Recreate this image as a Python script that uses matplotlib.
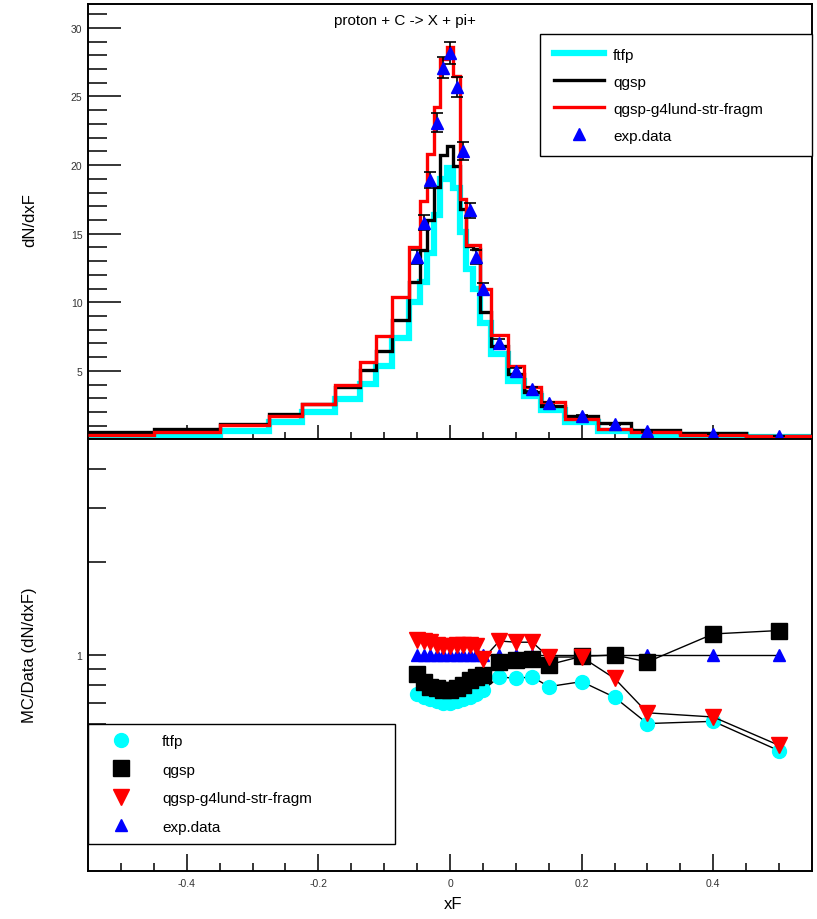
import numpy as np
import matplotlib
matplotlib.use('Agg')
import matplotlib.pyplot as plt
from matplotlib.lines import Line2D
from matplotlib.ticker import FixedLocator, NullFormatter, FixedFormatter

plt.rcParams['font.family'] = ['Liberation Sans', 'DejaVu Sans']

# histogram bins (xF)
edges = [-0.55, -0.45, -0.35, -0.275, -0.225, -0.175, -0.1375, -0.1125, -0.0875,
         -0.0625, -0.045, -0.035, -0.025, -0.015, -0.005, 0.005, 0.015, 0.025,
         0.035, 0.045, 0.0625, 0.0875, 0.1125, 0.1375, 0.175, 0.225, 0.275,
         0.35, 0.45, 0.55]

h_ftfp = [0.3, 0.35, 0.62, 1.28, 2.0, 2.95, 4.05, 5.35, 7.4, 10.0, 11.5, 13.6,
          16.4, 19.0, 19.8, 18.3, 15.1, 12.4, 11.0, 8.5, 6.2, 4.3, 3.15, 2.15,
          1.3, 0.62, 0.33, 0.3, 0.2]
h_qgsp = [0.55, 0.75, 1.15, 1.85, 2.6, 3.8, 5.07, 6.45, 8.7, 11.5, 13.8, 16.0,
          18.4, 20.7, 21.4, 19.9, 16.8, 14.1, 13.9, 9.3, 6.8, 4.8, 3.45, 2.45,
          1.7, 1.2, 0.7, 0.48, 0.27]
h_lund = [0.35, 0.55, 1.05, 1.7, 2.6, 4.0, 5.65, 7.55, 10.4, 14.0, 17.4, 20.8,
          24.2, 27.7, 28.6, 26.5, 17.5, 14.2, 14.2, 11.0, 7.6, 5.35, 3.8, 2.7,
          1.5, 0.77, 0.55, 0.33, 0.25]

# experimental points
xf = [-0.05, -0.04, -0.03, -0.02, -0.01, 0.0, 0.01, 0.02, 0.03, 0.04, 0.05,
      0.075, 0.1, 0.125, 0.15, 0.2, 0.25, 0.3, 0.4, 0.5]
dndxf = [13.3, 15.8, 18.9, 23.1, 27.1, 28.2, 25.7, 21.0, 16.7, 13.3, 11.0,
         7.0, 5.0, 3.7, 2.65, 1.7, 1.14, 0.62, 0.4, 0.25]
dndxf_err = [0.5, 0.55, 0.6, 0.7, 0.75, 0.8, 0.75, 0.65, 0.55, 0.5, 0.4,
             0.3, 0.2, 0.15, 0.1, 0.08, 0.06, 0.05, 0.03, 0.02]

# MC / data ratios
r_ftfp = [0.75, 0.73, 0.72, 0.71, 0.70, 0.70, 0.71, 0.72, 0.73, 0.75, 0.77,
          0.85, 0.84, 0.85, 0.79, 0.82, 0.73, 0.60, 0.61, 0.49]
r_qgsp = [0.87, 0.82, 0.79, 0.78, 0.77, 0.77, 0.78, 0.80, 0.83, 0.85, 0.86,
          0.95, 0.96, 0.97, 0.93, 0.99, 1.0, 0.95, 1.17, 1.2]
r_lund = [1.12, 1.11, 1.10, 1.08, 1.07, 1.07, 1.08, 1.08, 1.08, 1.07, 0.97,
          1.11, 1.10, 1.10, 0.985, 0.985, 0.84, 0.65, 0.63, 0.51]
r_data = [1.0] * len(xf)

W, H = 817, 920
fig = plt.figure(figsize=(W / 100, H / 100), dpi=100)


def px_axes(x0, y0, x1, y1):
    return fig.add_axes([x0 / W, 1 - y1 / H, (x1 - x0) / W, (y1 - y0) / H])


def style(ax):
    for s in ax.spines.values():
        s.set_linewidth(1.4)
    ax.tick_params(which='both', direction='in', top=False, right=False,
                   labelsize=7.5, labelcolor='#333333', width=1.1)


# ---- top panel
ax1 = px_axes(88, 5, 812, 440)
style(ax1)
ax1.stairs(h_ftfp, edges, baseline=None, color='cyan', lw=4.5, zorder=2)
ax1.stairs(h_qgsp, edges, baseline=None, color='black', lw=2.4, zorder=3)
ax1.stairs(h_lund, edges, baseline=None, color='red', lw=2.4, zorder=4)
ax1.errorbar(xf, dndxf, yerr=dndxf_err, fmt='^', color='blue', ms=8.5,
             ecolor='black', elinewidth=1.2, capsize=4, capthick=1.2, zorder=5)
ax1.set_xlim(-0.55, 0.55)
ax1.set_ylim(0.04, 31.74)
ax1.yaxis.set_major_locator(FixedLocator([5, 10, 15, 20, 25, 30]))
ax1.yaxis.set_minor_locator(FixedLocator(np.arange(1, 32)))
ax1.xaxis.set_major_locator(FixedLocator([-0.4, -0.2, 0, 0.2, 0.4]))
ax1.xaxis.set_minor_locator(FixedLocator(np.arange(-0.5, 0.55, 0.05)))
ax1.xaxis.set_major_formatter(NullFormatter())
ax1.tick_params(axis='y', which='major', length=24, pad=4)
ax1.tick_params(axis='y', which='minor', length=14)
ax1.tick_params(axis='x', which='major', length=10)
ax1.tick_params(axis='x', which='minor', length=5)

fig.text(405 / W, 1 - 21 / H, 'proton + C -> X + pi+', ha='center', va='center',
         fontsize=11)

top_handles = [Line2D([], [], color='cyan', lw=4.5),
               Line2D([], [], color='black', lw=2.4),
               Line2D([], [], color='red', lw=2.4),
               Line2D([], [], color='blue', marker='^', ls='none', ms=8.5)]
leg1 = ax1.legend(top_handles, ['ftfp', 'qgsp', 'qgsp-g4lund-str-fragm', 'exp.data'],
                  loc='upper left', bbox_to_anchor=(0.624, 0.931, 0.376, 0.0),
                  mode='expand', fontsize=11, frameon=True, fancybox=False,
                  edgecolor='black', framealpha=1, borderpad=0.9,
                  labelspacing=0.85, handlelength=3.3, handletextpad=0.6,
                  borderaxespad=0)
leg1.get_frame().set_linewidth(1.0)

fig.text(30 / W, 1 - 220 / H, 'dN/dxF', rotation=90, ha='center', va='center',
         fontsize=12)

# ---- bottom panel
ax2 = px_axes(88, 440, 812, 872)
style(ax2)
ax2.set_yscale('log')
ax2.plot(xf, r_data, color='black', lw=1, marker='^', mfc='blue', mec='blue',
         ms=9, zorder=3)
ax2.plot(xf, r_ftfp, color='black', lw=1, marker='o', mfc='cyan', mec='cyan',
         ms=10, zorder=4)
ax2.plot(xf, r_qgsp, color='black', lw=1, marker='s', mfc='black', mec='black',
         ms=11, zorder=5)
ax2.plot(xf, r_lund, color='black', lw=1, marker='v', mfc='red', mec='red',
         ms=11, zorder=6)
ax2.set_xlim(-0.55, 0.55)
ax2.set_ylim(0.2, 5)
ax2.yaxis.set_major_locator(FixedLocator([1]))
ax2.yaxis.set_major_formatter(FixedFormatter(['1']))
ax2.yaxis.set_minor_locator(FixedLocator([0.3, 0.4, 0.5, 0.6, 0.7, 0.8, 0.9, 2, 3, 4]))
ax2.yaxis.set_minor_formatter(NullFormatter())
ax2.xaxis.set_major_locator(FixedLocator([-0.4, -0.2, 0, 0.2, 0.4]))
ax2.xaxis.set_major_formatter(FixedFormatter(['-0.4', '-0.2', '0', '0.2', '0.4']))
ax2.xaxis.set_minor_locator(FixedLocator(np.arange(-0.5, 0.55, 0.05)))
ax2.tick_params(axis='y', which='both', length=13, pad=4)
ax2.tick_params(axis='x', which='major', length=12, pad=5)
ax2.tick_params(axis='x', which='minor', length=6)

bot_handles = [Line2D([], [], color='cyan', marker='o', ls='none', ms=10),
               Line2D([], [], color='black', marker='s', ls='none', ms=11),
               Line2D([], [], color='red', marker='v', ls='none', ms=11),
               Line2D([], [], color='blue', marker='^', ls='none', ms=9)]
leg2 = ax2.legend(bot_handles, ['ftfp', 'qgsp', 'qgsp-g4lund-str-fragm', 'exp.data'],
                  loc='upper left', bbox_to_anchor=(0.0, 0.34, 0.424, 0.0),
                  mode='expand', fontsize=11, frameon=True, fancybox=False,
                  edgecolor='black', framealpha=1, borderpad=0.65,
                  labelspacing=0.95, handlelength=3.0, handletextpad=1.2,
                  borderaxespad=0)
leg2.get_frame().set_linewidth(1.0)
leg2.set_zorder(10)

fig.text(30 / W, 1 - 655 / H, 'MC/Data (dN/dxF)', rotation=90, ha='center',
         va='center', fontsize=12)
fig.text(453 / W, 1 - 905 / H, 'xF', ha='center', va='center', fontsize=12)

fig.savefig('out.png', dpi=100)
